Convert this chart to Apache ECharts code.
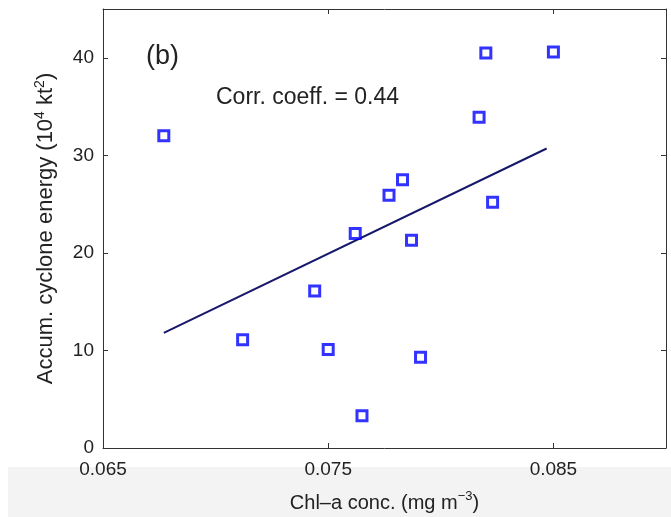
<!DOCTYPE html>
<html>
<head>
<meta charset="utf-8">
<script src="https://cdn.jsdelivr.net/npm/echarts@6/dist/echarts.min.js"></script>
<style>
html,body{margin:0;padding:0;background:#fff;}
#chart{width:671px;height:517px;}
</style>
</head>
<body>
<div id="chart"></div>
<script>
// Chlorophyll-a concentration (mg m^-3)
var chl = [0.0677, 0.0820, 0.0850, 0.0817, 0.0783, 0.0777, 0.0823, 0.0762, 0.0787, 0.0744, 0.0712, 0.0750, 0.0791, 0.0765];
// Accumulated cyclone energy (10^4 kt^2)
var ace = [32.0, 40.5, 40.6, 33.9, 27.5, 25.9, 25.2, 22.0, 21.3, 16.1, 11.1, 10.1, 9.3, 3.3];
// Regression line end points
var fitX = [0.0677, 0.0847];
var fitY = [11.8, 30.7];
// Axis ranges / ticks
var xMin = 0.065, xMax = 0.09, xStep = 0.01;
var yMin = 0, yMax = 45, yStep = 10;
var corrText = 'Corr. coeff. = 0.44';
var panelText = '(b)';

var points = chl.map(function (x, i) { return [x, ace[i]]; });
var fitLine = fitX.map(function (x, i) { return [x, fitY[i]]; });

var txt = '#222';
var font = 'Liberation Sans, Arial, Helvetica, sans-serif';

var chart = echarts.init(document.getElementById('chart'), null, {renderer: 'canvas'});
function axisBase() {
  return {
    type: 'value',
    splitLine: {show: false},
    axisLine: {show: true, onZero: false, lineStyle: {color: '#333', width: 1}},
    axisTick: {show: true, inside: true, length: 5, lineStyle: {color: '#333'}}
  };
}
chart.setOption({
  animation: false,
  backgroundColor: '#fff',
  textStyle: {fontFamily: font},
  graphic: [
    {type: 'rect', z: -10, silent: true, shape: {x: 8, y: 467, width: 663, height: 50}, style: {fill: '#f3f3f3'}},
    {type: 'text', left: 146, top: 43, style: {text: panelText, font: '27px ' + font, fill: txt}},
    {type: 'text', left: 216, top: 86, style: {text: corrText, font: '23px ' + font, fill: txt}}
  ],
  grid: {left: 103, right: 5, top: 9, bottom: 69, outerBoundsMode: 'none'},
  xAxis: [
    Object.assign(axisBase(), {
      min: xMin, max: xMax, interval: xStep, position: 'bottom',
      axisLabel: {show: true, showMaxLabel: false, color: txt, fontSize: 19, margin: 12,
        formatter: function (v) { return v.toFixed(3); }},
      name: '{n|Chl\u2013a conc. (mg m}{s|\u22123}{n|)}',
      nameLocation: 'middle', nameGap: 42,
      nameTextStyle: {rich: {
        n: {fontSize: 20, color: txt, fontFamily: font, lineHeight: 26},
        s: {fontSize: 13, color: txt, fontFamily: font, verticalAlign: 'top', lineHeight: 26, padding: [0, 0, 12, 0]}
      }}
    }),
    {
      type: 'value', min: xMin, max: xMax, interval: xStep, position: 'top',
      splitLine: {show: false},
      axisLine: {show: true, onZero: false, lineStyle: {color: '#333', width: 1}},
      axisTick: {show: true, inside: true, length: 5, lineStyle: {color: '#333'}},
      axisLabel: {show: false}
    }
  ],
  yAxis: [
    Object.assign(axisBase(), {
      min: yMin, max: yMax, interval: yStep, position: 'left',
      axisLabel: {show: true, showMaxLabel: false, color: txt, fontSize: 19, margin: 9},
      name: '{n|Accum. cyclone energy (10}{s|4}{n| kt}{s|2}{n|)}',
      nameLocation: 'middle', nameGap: 44, nameRotate: 90,
      nameTextStyle: {rich: {
        n: {fontSize: 22, color: txt, fontFamily: font, lineHeight: 26},
        s: {fontSize: 14, color: txt, fontFamily: font, verticalAlign: 'top', lineHeight: 26, padding: [0, 0, 12, 0]}
      }}
    }),
    Object.assign(axisBase(), {
      min: yMin, max: yMax, interval: yStep, position: 'right',
      axisLabel: {show: false}
    })
  ],
  series: [
    {
      type: 'line', data: fitLine, symbol: 'none', z: 2,
      lineStyle: {color: '#17176b', width: 2}
    },
    {
      type: 'scatter', data: points, symbol: 'rect', symbolSize: 10, z: 3,
      itemStyle: {color: '#fff', borderColor: '#0000ff', borderWidth: 3}
    }
  ]
});
</script>
</body>
</html>
